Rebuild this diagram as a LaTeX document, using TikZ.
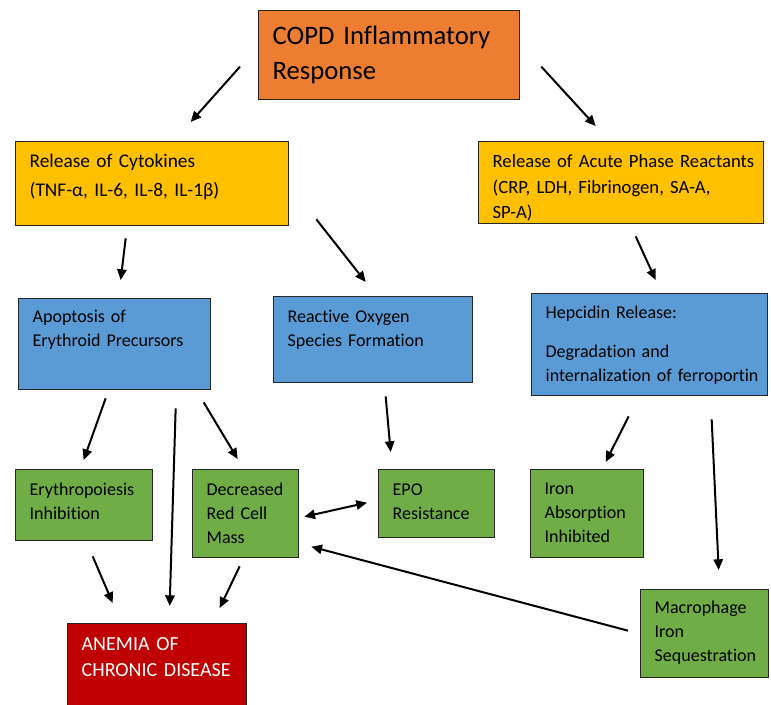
\documentclass[tikz,border=0pt]{standalone}
\usepackage{fontspec}
\setmainfont{Carlito}[Ligatures=NoCommon]
\usepackage{tikz}
\usetikzlibrary{arrows.meta}

\definecolor{copdorange}{HTML}{ED7D31}
\definecolor{releaseyellow}{HTML}{FFC000}
\definecolor{mechblue}{HTML}{5B9BD5}
\definecolor{effectgreen}{HTML}{70AD47}
\definecolor{anemiared}{HTML}{C00000}
\hyphenpenalty=10000
\exhyphenpenalty=10000

\begin{document}
\begin{tikzpicture}[x=0.75pt, y=-0.75pt,
    box/.style={draw=black!85, line width=1pt, anchor=north west, align=left, inner xsep=10.5pt, inner ysep=0pt},
    dims/.style n args={3}{text width=#1pt, text height=#2pt, text depth=#3pt},
    body/.style={font=\fontsize{13.5}{18}\selectfont},
    arr/.style={-{Triangle[length=8pt,width=7pt]}, line width=1.5pt},
    darr/.style={{Triangle[length=8pt,width=7pt]}-{Triangle[length=8pt,width=7pt]}, line width=1.5pt}
  ]
    \useasboundingbox (0,0) rectangle (771,704);

    % top and release level
    \node[box, dims={174.75}{25.5}{41.25}, fill=copdorange, font=\fontsize{20}{26}\selectfont] (copd) at (258,10) {COPD Inflammatory\\Response};
    \node[box, dims={183.75}{19.5}{43.5}, fill=releaseyellow, font=\fontsize{14.5}{21.75}\selectfont] (cyto) at (15,141) {Release of Cytokines\\(TNF-α, IL-6, IL-8, IL-1β)};
    \node[box, dims={192.75}{19.5}{42}, fill=releaseyellow, font=\fontsize{14}{19}\selectfont] (acute) at (478,141) {\mbox{Release of Acute Phase Reactants}\\(CRP, LDH, Fibrinogen, SA-A,\\SP-A)};

    % mechanisms
    \node[box, body, dims={123}{18}{50.25}, fill=mechblue] (apop) at (18,298) {Apoptosis of\\Erythroid Precursors};
    \node[box, body, dims={128.25}{19.5}{45}, fill=mechblue] (ros) at (273,296) {Reactive Oxygen\\Species Formation};
    \node[box, body, dims={156}{18.75}{57.75}, fill=mechblue] (hep) at (531,293) {Hepcidin Release:\\[11pt]Degradation and\\\mbox{internalization of ferroportin}};

    % effects
    \node[box, body, dims={81.75}{19.5}{33.75}, fill=effectgreen] (ery) at (15,469) {Erythropoiesis\\Inhibition};
    \node[box, body, dims={58.5}{19.5}{46.5}, fill=effectgreen] (dec) at (192,469) {Decreased\\Red Cell\\Mass};
    \node[box, body, dims={66}{19.5}{31.5}, fill=effectgreen] (epo) at (378,469) {EPO\\Resistance};
    \node[box, body, dims={63.75}{18.75}{47.25}, fill=effectgreen] (iron) at (530,469) {Iron\\Absorption\\Inhibited};
    \node[box, body, dims={75}{18}{48}, fill=effectgreen] (mac) at (640,589) {Macrophage\\Iron\\Sequestration};

    \node[box, dims={113.25}{20.25}{47.25}, fill=anemiared, text=white, font=\fontsize{15}{19}\selectfont] (acd) at (67,623) {ANEMIA OF\\\mbox{CHRONIC DISEASE}};

    % connectors
    \draw[arr] ([shift={(-18,11.5)}]copd.west) -- ([shift={(38.5,-19)}]cyto.north);
    \draw[arr] ([shift={(21,11.5)}]copd.east) -- ([shift={(-25.5,-15)}]acute.north);
    \draw[arr] ([shift={(-26.5,12)}]cyto.south) -- ([shift={(6,-18)}]apop.north);
    \draw[arr] ([shift={(27,-7)}]cyto.south east) -- ([shift={(-7.5,-14)}]ros.north);
    \draw[arr] ([shift={(14.5,12)}]acute.south) -- ([shift={(6,-13)}]hep.north);
    \draw[arr] ([shift={(-9,8)}]apop.south) -- ([shift={(-0.5,-9)}]ery.north);
    \draw[arr] ([shift={(61,18)}]apop.south) -- ([shift={(12.5,-17)}]acd.north);
    \draw[arr] ([shift={(89,12)}]apop.south) -- ([shift={(-8,-10)}]dec.north);
    \draw[arr] ([shift={(12.5,13)}]ros.south) -- ([shift={(-46,-17)}]epo.north);
    \draw[arr] ([shift={(-21,20)}]hep.south) -- ([shift={(18.5,-7)}]iron.north);
    \draw[arr] ([shift={(62,23)}]hep.south) -- ([shift={(14,-19)}]mac.north);
    \draw[arr] ([shift={(8.5,15)}]ery.south) -- ([shift={(-44.5,-20)}]acd.north);
    \draw[arr] ([shift={(-6,8)}]dec.south) -- ([shift={(62.5,-15)}]acd.north);
    \draw[darr] ([shift={(5,3)}]dec.east) -- ([shift={(-11,-1)}]epo.west);
    \draw[arr] ([shift={(-12,-3)}]mac.west) -- ([shift={(12,33)}]dec.east);
\end{tikzpicture}
\end{document}
